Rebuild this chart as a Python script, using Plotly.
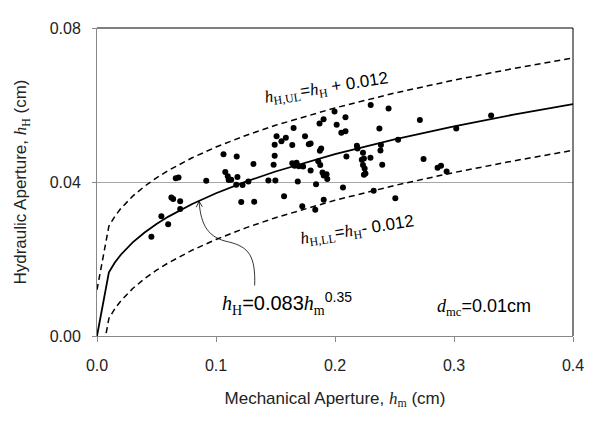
import plotly.graph_objects as go

# ---- measured data (mechanical aperture h_m, hydraulic aperture h_H), cm ----
hm = [0.0457, 0.0541, 0.0598, 0.0625, 0.0640, 0.0699, 0.0699, 0.0662, 0.0685, 0.0918,
      0.1063, 0.1078, 0.1099, 0.1107, 0.1128, 0.1174, 0.1180, 0.1170, 0.1223, 0.1272,
      0.1212, 0.1321, 0.1315, 0.1440, 0.1499, 0.1493, 0.1484, 0.1509, 0.1587, 0.1550,
      0.1493, 0.1641, 0.1652, 0.1748, 0.1780, 0.1572, 0.1687, 0.1725, 0.1641, 0.1677,
      0.1660, 0.1696, 0.1732, 0.1795, 0.1795, 0.1841, 0.1834, 0.1859, 0.1876, 0.1884,
      0.1873, 0.1895, 0.1929, 0.1905, 0.1935, 0.1905, 0.1870, 0.1904, 0.1996, 0.2088,
      0.2014, 0.2053, 0.2088, 0.2184, 0.2189, 0.2096, 0.2067, 0.2235, 0.2243, 0.2298,
      0.2225, 0.2235, 0.2249, 0.2256, 0.2243, 0.2300, 0.2450, 0.2373, 0.2386, 0.2382,
      0.2397, 0.2325, 0.2530, 0.2507, 0.2713, 0.2744, 0.2862, 0.2891, 0.2938, 0.3019,
      0.3312]
hH = [0.0258, 0.0311, 0.0290, 0.0360, 0.0356, 0.0350, 0.0330, 0.0410, 0.0412, 0.0403,
      0.0472, 0.0426, 0.0415, 0.0405, 0.0406, 0.0466, 0.0413, 0.0393, 0.0392, 0.0401,
      0.0348, 0.0349, 0.0447, 0.0404, 0.0404, 0.0468, 0.0445, 0.0519, 0.0515, 0.0506,
      0.0497, 0.0496, 0.0540, 0.0519, 0.0498, 0.0363, 0.0401, 0.0337, 0.0449, 0.0450,
      0.0442, 0.0441, 0.0440, 0.0430, 0.0500, 0.0394, 0.0328, 0.0454, 0.0444, 0.0487,
      0.0481, 0.0425, 0.0420, 0.0417, 0.0408, 0.0354, 0.0552, 0.0563, 0.0583, 0.0568,
      0.0549, 0.0528, 0.0532, 0.0494, 0.0487, 0.0466, 0.0386, 0.0476, 0.0461, 0.0463,
      0.0458, 0.0444, 0.0435, 0.0422, 0.0419, 0.0600, 0.0591, 0.0539, 0.0496, 0.0482,
      0.0445, 0.0377, 0.0510, 0.0358, 0.0561, 0.0460, 0.0437, 0.0442, 0.0427, 0.0539,
      0.0573]

# ---- fitted relation h_H = 0.083 h_m^0.35 and +/-0.012 limits (tabulated) ----
fit_x = [0, 0.01, 0.015, 0.02, 0.03, 0.04, 0.05, 0.06, 0.08, 0.1, 0.125, 0.15,
         0.2, 0.25, 0.3, 0.35, 0.4]
fit_y = [0, 0.01656, 0.01909, 0.02111, 0.02433, 0.02690, 0.02909, 0.03101, 0.03429,
         0.03708, 0.04009, 0.04273, 0.04725, 0.05109, 0.05446, 0.05748, 0.06023]
upper_y = [0.012, 0.02856, 0.03109, 0.03311, 0.03633, 0.03890, 0.04109, 0.04301,
           0.04629, 0.04908, 0.05209, 0.05473, 0.05925, 0.06309, 0.06646, 0.06948, 0.07223]
lower_y = [-0.012, 0.00456, 0.00709, 0.00911, 0.01233, 0.01490, 0.01709, 0.01901,
           0.02229, 0.02508, 0.02809, 0.03073, 0.03525, 0.03909, 0.04246, 0.04548, 0.04823]

x_ticks = [0, 0.1, 0.2, 0.3, 0.4]
x_tick_labels = ["0.0", "0.1", "0.2", "0.3", "0.4"]
y_ticks = [0, 0.04, 0.08]
y_tick_labels = ["0.00", "0.04", "0.08"]

SANS = "Liberation Sans, Arial, sans-serif"
SERIF = "Liberation Serif"


def it(v):
    return f"<span style='font-family:{SERIF}'><i>{v}</i></span>"


def sub(v):
    return f"<sub><span style='font-family:{SERIF}'>{v}</span></sub>"


fig = go.Figure()
fig.add_trace(go.Scatter(x=fit_x, y=upper_y, mode="lines",
                         line=dict(color="black", width=1.5, dash="6px,4px"),
                         hoverinfo="skip", showlegend=False))
fig.add_trace(go.Scatter(x=fit_x, y=lower_y, mode="lines",
                         line=dict(color="black", width=1.5, dash="6px,4px"),
                         hoverinfo="skip", showlegend=False))
fig.add_trace(go.Scatter(x=fit_x, y=fit_y, mode="lines",
                         line=dict(color="black", width=1.8),
                         hoverinfo="skip", showlegend=False))
fig.add_trace(go.Scatter(x=hm, y=hH, mode="markers",
                         marker=dict(color="black", size=6),
                         showlegend=False))

# curved pointer from the equation label to the fitted curve
fig.add_shape(type="path", xref="x", yref="y",
              path="M 0.13249,0.01312 C 0.13333,0.02084 0.12746,0.02315 0.11069,0.02444 "
                   "C 0.09392,0.02547 0.08721,0.02855 0.08579,0.03498",
              line=dict(color="black", width=0.8))
fig.add_shape(type="path", xref="x", yref="y",
              path="M 0.08344,0.03344 L 0.08579,0.03498 L 0.08847,0.03357",
              line=dict(color="black", width=0.8))

# top and right frame lines (black)
fig.add_shape(type="line", xref="paper", yref="paper", x0=0, x1=1, y0=1, y1=1,
              line=dict(color="black", width=1))
fig.add_shape(type="line", xref="paper", yref="paper", x0=1, x1=1, y0=0, y1=1,
              line=dict(color="black", width=1))

ann_font = dict(family=SANS, size=17, color="black")
fig.add_annotation(x=0.1925, y=0.0642, xref="x", yref="y", showarrow=False,
                   text=f"{it('h')}{sub('H,UL')}={it('h')}{sub('H')} + 0.012",
                   textangle=-9, font=ann_font)
fig.add_annotation(x=0.2189, y=0.0273, xref="x", yref="y", showarrow=False,
                   text=f"{it('h')}{sub('H,LL')}={it('h')}{sub('H')}- 0.012",
                   textangle=-9, font=ann_font)
fig.add_annotation(x=0.1593, y=0.0084, xref="x", yref="y", showarrow=False,
                   text=f"{it('h')}{sub('H')}=0.083{it('h')}{sub('m')}<sup>0.35</sup>",
                   font=dict(family=SANS, size=20, color="black"))
fig.add_annotation(x=0.3250, y=0.0073, xref="x", yref="y", showarrow=False,
                   text=f"{it('d')}{sub('mc')}=0.01cm",
                   font=dict(family=SANS, size=18, color="black"))

# page body adds an 8 px offset; the figure is sized to compensate
fig.update_layout(
    width=588, height=415,
    margin=dict(l=88, r=23, t=17, b=87),
    paper_bgcolor="white", plot_bgcolor="white",
    font=dict(family=SANS, size=16, color="#222222"),
    xaxis=dict(range=[0, 0.4], tickvals=x_ticks, ticktext=x_tick_labels,
               showgrid=False, zeroline=False, showline=True, linecolor="#888888",
               linewidth=1, ticks="outside", ticklen=5, tickcolor="#888888",
               ticklabelstandoff=10,
               title=dict(text=f"Mechanical Aperture, {it('h')}{sub('m')} (cm)",
                          font=dict(size=17), standoff=18)),
    yaxis=dict(range=[0, 0.08], tickvals=y_ticks, ticktext=y_tick_labels,
               showgrid=True, gridcolor="#a6a6a6", gridwidth=1,
               zeroline=False, showline=True, linecolor="#888888",
               linewidth=1, ticks="outside", ticklen=4, tickcolor="#888888",
               ticklabelstandoff=8,
               title=dict(text=f"Hydraulic Aperture, {it('h')}{sub('H')} (cm)",
                          font=dict(size=17), standoff=18)),
)

fig.write_html("out.html")
